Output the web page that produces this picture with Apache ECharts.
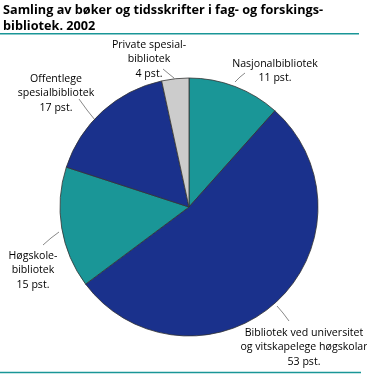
<!DOCTYPE html>
<html>
<head>
<meta charset="utf-8">
<script src="https://cdn.jsdelivr.net/npm/echarts@6/dist/echarts.min.js"></script>
<style>
html,body{margin:0;padding:0;background:#fff;}
#c{width:367px;height:374px;}
</style>
</head>
<body>
<div id="c"></div>
<script>
// Data
var categories = [
  'Nasjonalbibliotek',
  'Bibliotek ved universitet\nog vitskapelege høgskolar',
  'Høgskole-\nbibliotek',
  'Offentlege\nspesialbibliotek',
  'Private spesial-\nbibliotek'
];
var values = [11.6, 53.2, 15.2, 16.6, 3.4];
var pctLabels = ['11 pst.', '53 pst.', '15 pst.', '17 pst.', '4 pst.'];
var titleText = 'Samling av bøker og tidsskrifter i fag- og forskings-\nbibliotek. 2002';

// Styling / layout
var colors = ['#1a9697', '#1a318c', '#1a9697', '#1a318c', '#cccccc'];
var labelPos = [
  {x: 275, y: 71, line: [[235, 82], [240, 77], [245, 73]]},
  {x: 304, y: 347, line: [[277, 306], [283, 313], [289, 321]]},
  {x: 33, y: 270, line: [[59, 232], [51, 238], [43, 245]]},
  {x: 56, y: 93, line: [[95, 120], [87, 110], [79, 99]]},
  {x: 149, y: 59, line: [[174, 78], [169, 74], [163, 69]]}
];

var chart = echarts.init(document.getElementById('c'), null, {renderer: 'canvas'});
var font = '"Open Sans", "Noto Sans", sans-serif';
chart.setOption({
  animation: false,
  title: {
    text: titleText,
    left: 3,
    top: 2.5,
    padding: [0, 0, 0, 0],
    textStyle: {fontFamily: font, fontWeight: 'bold', fontSize: 12.7, lineHeight: 16, color: '#000'}
  },
  graphic: [
    {type: 'rect', shape: {x: 0, y: 33, width: 359, height: 1.4}, style: {fill: '#1a9697'}, z: 10},
    {type: 'rect', shape: {x: 0, y: 371.8, width: 361, height: 1.4}, style: {fill: '#1a9697'}, z: 10}
  ],
  series: [{
    type: 'pie',
    center: [189, 207],
    radius: 129,
    startAngle: 90,
    clockwise: true,
    data: values.map(function (v, i) {
      return {value: v, name: categories[i], itemStyle: {color: colors[i]}};
    }),
    itemStyle: {borderColor: '#333', borderWidth: 0.8},
    label: {
      show: true,
      position: 'outside',
      overflow: 'none',
      formatter: function (p) { return p.name + '\n' + pctLabels[p.dataIndex]; },
      fontFamily: font,
      fontSize: 10.6,
      lineHeight: 14.5,
      color: '#000',
      align: 'center'
    },
    labelLine: {show: true, length: 5, length2: 5, lineStyle: {color: '#555', width: 0.7}},
    labelLayout: function (params) {
      var lp = labelPos[params.dataIndex];
      return {
        x: lp.x,
        y: lp.y,
        align: 'center',
        verticalAlign: 'middle',
        labelLinePoints: lp.line
      };
    },
    emphasis: {disabled: true}
  }]
});
</script>
</body>
</html>
